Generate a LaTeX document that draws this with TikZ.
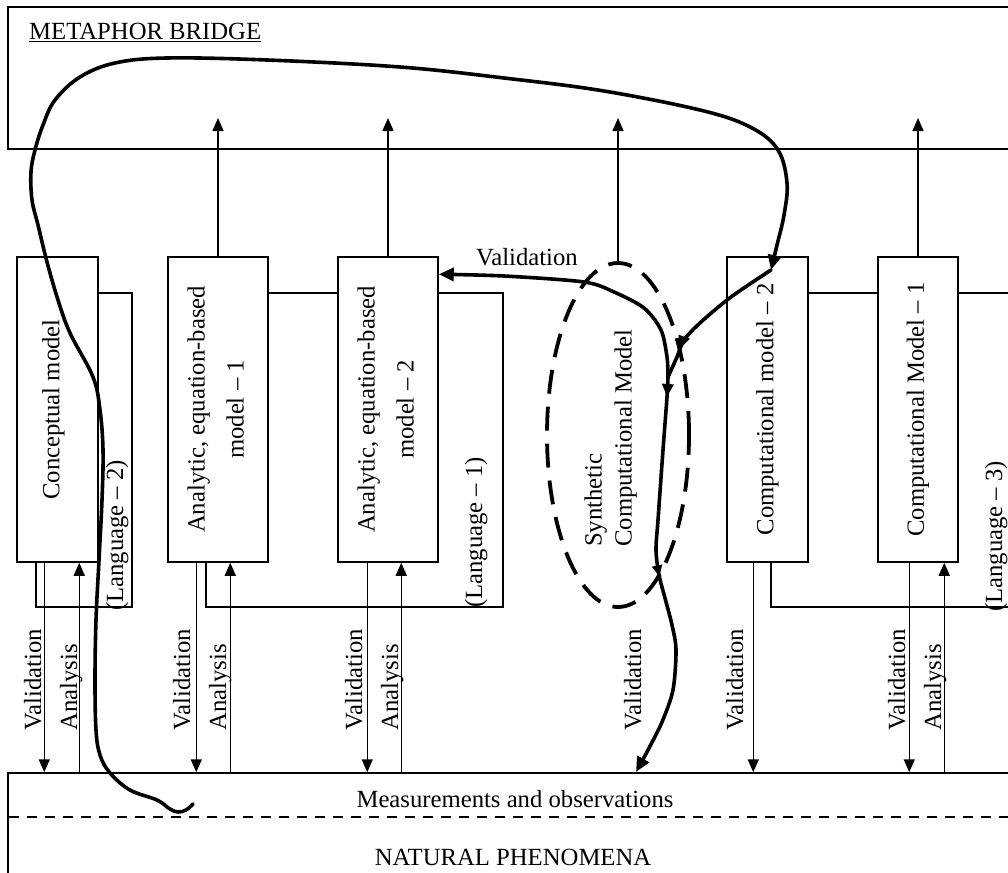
\documentclass[tikz,border=0pt]{standalone}
\usepackage{fontspec}
\setmainfont{Liberation Serif}
\usetikzlibrary{arrows.meta,decorations.markings,shapes.geometric,calc}
\tikzset{
  ln/.style={line width=1.5pt},
  txt/.style={font=\fontsize{24.7}{30}\selectfont},
  box/.style={draw, ln, fill=white, inner sep=0pt, minimum height=305pt, txt},
  arr/.style={ln, -{Triangle[length=13pt,width=11pt]}},
  bold/.style={line width=3.6pt, line cap=round, line join=round},
  boldtip/.style={bold, -{Triangle[length=15pt,width=13pt]}},
  vlab/.style={txt, rotate=90, anchor=base west, inner sep=0pt},
  dshell/.style={draw, line width=3.8pt, dash pattern=on 24pt off 13pt, ellipse, inner sep=0pt},
  midtip/.style={postaction={decorate}, decoration={markings, mark=at position #1 with {\arrow{Triangle[length=13pt,width=11pt]}}}},
  midtiptwo/.style={postaction={decorate}, decoration={markings,
     mark=at position 20pt with {\arrow{Triangle[length=13pt,width=11pt]}},
     mark=at position 200pt with {\arrow{Triangle[length=11pt,width=10pt]}}}},
}
\begin{document}
\begin{tikzpicture}[x=1pt,y=-1pt]
\useasboundingbox (0,0) rectangle (1008,872);
\clip (0,0) rectangle (1008,872);

% frames
\node[draw, ln, minimum width=1022pt, minimum height=142pt, inner sep=0pt] (bridge) at (519,78) {};
\node[draw, ln, minimum width=1022pt, minimum height=127pt, inner sep=0pt] (meas) at (519,836.5) {};
\coordinate (dl) at (9,817);
\coordinate (dr) at (1030,817);
\draw[line width=2.2pt, dash pattern=on 10pt off 8pt] (dl) -- (dr);

\node[txt, anchor=base west, inner sep=0pt] (mb) at (29,40) {\underline{METAPHOR BRIDGE}};
\node[txt, anchor=base, inner sep=0pt] (mo) at (515,807) {Measurements and observations};
\node[txt, anchor=base, inner sep=0pt] (np) at (513,865) {NATURAL PHENOMENA};

% language frames (behind boxes)
\draw[ln] (36,293) rectangle (132,607);
\draw[ln] (206,293) rectangle (503,607);
\draw[ln] (771,293) rectangle (1030,607);

% model boxes
\node[box, minimum width=81pt] (b1) at (57.5,409.5) {\rotatebox{90}{Conceptual model}\hspace*{8pt}};
\node[box, minimum width=100pt] (b2) at (218,409.5) {\rotatebox{90}{\begin{tabular}{@{}c@{}}Analytic, equation-based\\[9pt]model -- 1\end{tabular}}};
\node[box, minimum width=100pt] (b3) at (388,409.5) {\rotatebox{90}{\begin{tabular}{@{}c@{}}Analytic, equation-based\\[9pt]model -- 2\end{tabular}}};
\node[box, minimum width=81pt] (c2) at (767.5,409.5) {\rotatebox{90}{Computational model -- 2}};
\node[box, minimum width=80pt] (c1) at (918,409.5) {\rotatebox{90}{Computational Model -- 1}};

% synthetic model
\node[dshell, minimum width=142pt, minimum height=344pt] (ell) at (618,435) {};
\node[txt, rotate=90, align=left, anchor=south west, inner sep=0pt] (elltxt) at (637,547) {Synthetic\\Computational Model};

% language labels
\node[vlab] (l2) at (123,611) {(Language -- 2)};
\node[vlab] (l1) at (482,608) {(Language -- 1)};
\node[vlab] (l3) at (1002,612) {(Language -- 3)};

% arrows to metaphor bridge
\coordinate (topY) at (0,118);
\draw[arr] (b2.north) -- (b2.north |- topY);
\draw[arr] (b3.north) -- (b3.north |- topY);
\draw[arr] (ell.north) -- (ell.north |- topY);
\draw[arr] (c1.north) -- (c1.north |- topY);

% validation / analysis arrows
\coordinate (v1) at ([xshift=28pt]b1.south west);
\coordinate (a1) at ([xshift=63pt]b1.south west);
\coordinate (v2) at ([xshift=29pt]b2.south west);
\coordinate (a2) at ([xshift=63pt]b2.south west);
\coordinate (v3) at ([xshift=30pt]b3.south west);
\coordinate (a3) at ([xshift=64pt]b3.south west);
\coordinate (v5) at ([xshift=27pt]c2.south west);
\coordinate (v6) at ([xshift=32pt]c1.south west);
\coordinate (a6) at ([xshift=67pt]c1.south west);
\foreach \v in {v1,v2,v3,v5,v6} { \draw[arr] (\v) -- (\v |- meas.north); }
\foreach \a in {a1,a2,a3,a6} { \draw[arr] (\a |- meas.north) -- (\a); }

\node[vlab] (tv1) at (41,731) {Validation};
\node[vlab] (tv2) at (190,731) {Validation};
\node[vlab] (tv3) at (362,731) {Validation};
\node[vlab] (tv4) at (641,731) {Validation};
\node[vlab] (tv5) at (743,731) {Validation};
\node[vlab] (tv6) at (905,731) {Validation};
\node[vlab] (ta1) at (77,731) {Analysis};
\node[vlab] (ta2) at (226,731) {Analysis};
\node[vlab] (ta3) at (398,731) {Analysis};
\node[vlab] (ta6) at (941,731) {Analysis};

\node[txt, anchor=base, inner sep=0pt] (vt) at (527,265) {Validation};

% thick curves
\coordinate (c1s) at (193,804);
\coordinate (c1e) at (771,270);
\coordinate (M) at (668,377);
\coordinate (vA) at ([yshift=-18pt]b3.north east);
\coordinate (vB) at (636,772);

\draw[boldtip] plot[smooth, tension=0.6] coordinates {(c1s) (186,810) (178,812) (170,809) (157,800) (130,790) (110,773) (100,755) (96,730) (95,680) (96,620) (99,560) (102,500) (103,450) (100,410) (93,377) (70,333) (58,300) (47,262) (38,225) (32,200) (31,172) (35,150) (43,125) (55,100) (80,77) (115,63) (167,58) (267,60) (400,67) (504,78) (604,91) (704,111) (752,128) (778,150) (787,183) (784,215) (777,245) (c1e)};

\draw[bold, midtip=0.8] plot[smooth] coordinates {(c1e) (731,297) (701,322) (684,340) (677,357) (M)};
\draw[boldtip] plot[smooth] coordinates {(M) (667,357) (661,330) (644,308) (614,292) (584,282) (504,276) (vA)};
\draw[boldtip, midtiptwo] plot[smooth] coordinates {(M) (667,397) (663,450) (658,520) (656,550) (659,575) (665,598) (672,625) (676,650) (673,690) (662,722) (648,750) (vB)};
\end{tikzpicture}
\end{document}
